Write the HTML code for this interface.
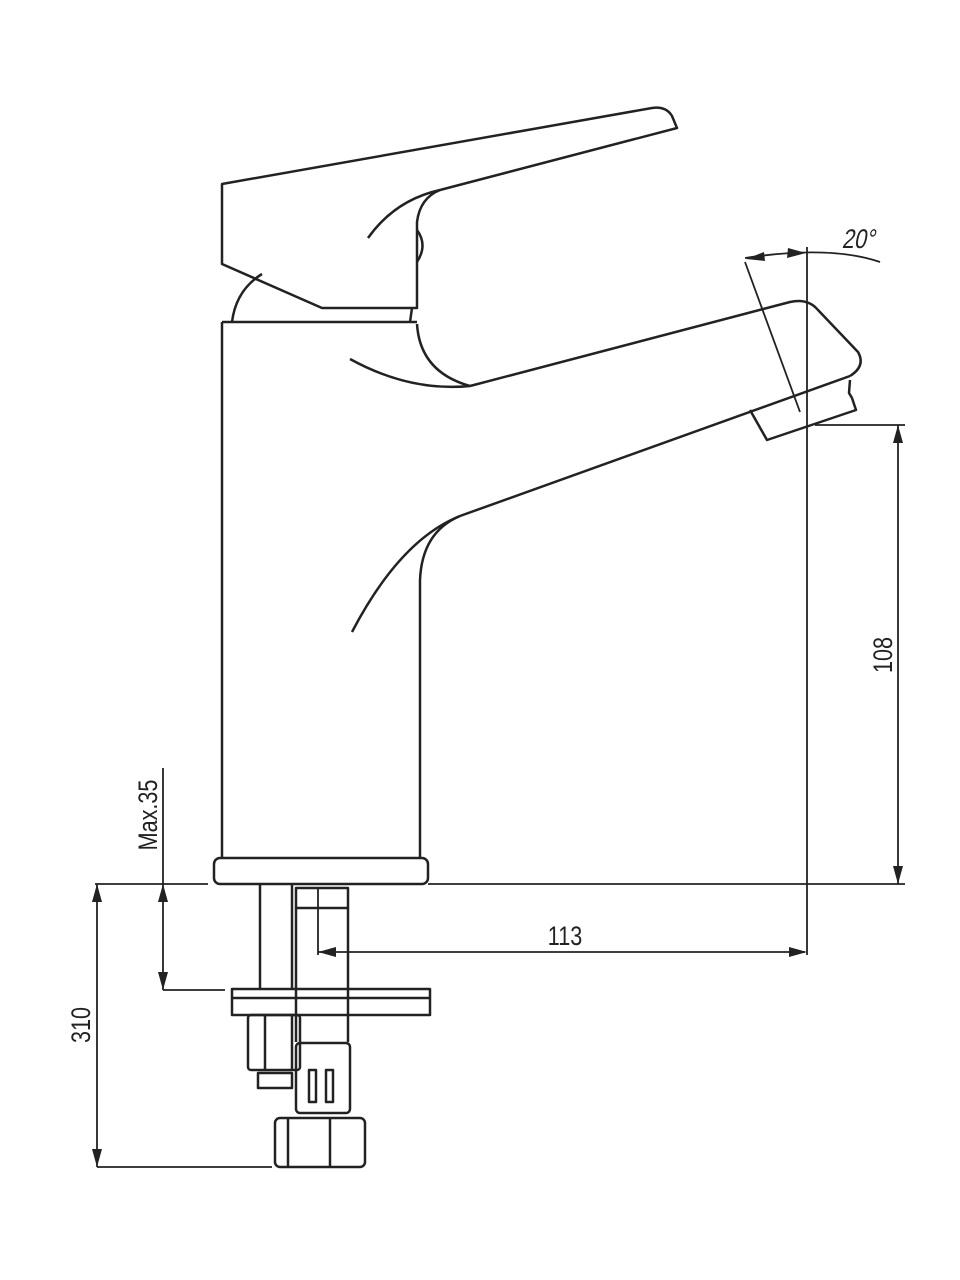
<!DOCTYPE html>
<html><head><meta charset="utf-8"><style>html,body{margin:0;padding:0;background:#fff}svg{display:block}</style></head>
<body>
<svg width="960" height="1280" viewBox="0 0 960 1280" xmlns="http://www.w3.org/2000/svg">
<g fill="none" stroke="#222" stroke-width="2.5" stroke-linejoin="round">
<path d="M222,184 L652,108 Q666,106 672,116 L677,128 L440,190 Q420,198 417,222 L417,308 L322,308 L222,264 Z"/>
<path d="M368,238 Q395,200 440,190"/>
<path d="M417,230 Q428,245 417,262"/>
<path d="M232,322 Q236,290 262,274"/>
<path d="M412,308 L410,322"/>
<path d="M222,322 L417,322"/>
<path d="M222,322 L222,858"/>
<path d="M420,580 L420,858"/>
<path d="M417,324 Q420,372 470,386"/>
<path d="M350,359 Q410,392 470,386"/>
<path d="M470,386 L790,302 Q808,298 818,310 L858,352 Q866,366 850,376"/>
<path d="M460,516 L850,376"/>
<path d="M460,516 Q422,532 420,580"/>
<path d="M352,632 Q400,540 460,516"/>
<path d="M750,410 L767,440 L856,410 L852,398 L849,393 L850,380"/>
<rect x="214" y="858" width="214" height="26" rx="6"/>
<path d="M260,884 L260,990 M292,884 L292,990"/>
<path d="M296,888 L348,888 L348,908 L296,908 Z"/>
<path d="M296,908 L296,1042 M348,908 L348,1042"/>
<rect x="232" y="989" width="198" height="26"/>
<path d="M232,998 L430,998"/>
<rect x="248" y="1015" width="52" height="55" rx="3"/>
<path d="M265,1015 L265,1070 M292,1015 L292,1070"/>
<path d="M258,1073 L292,1073 L292,1088 L258,1088 Z"/>
<rect x="296" y="1043" width="54" height="70" rx="4"/>
<rect x="309" y="1070" width="7" height="32"/>
<rect x="326" y="1070" width="7" height="32"/>
<rect x="275" y="1118" width="90" height="49" rx="5"/>
<path d="M288,1118 L288,1167 M330,1118 L330,1167"/>
</g>
<g fill="none" stroke="#222" stroke-width="1.8">
<path d="M95,884 L208,884 M428,884 L905,884"/>
<path d="M807,247 L807,955"/>
<path d="M745,262 L800,412"/>
<path d="M745,258 Q830,245 880,262"/>
<path d="M815,425 L905,425 M898,425 L898,884"/>
<path d="M318,888 L318,955 M318,952 L805,952"/>
<path d="M163,768 L163,990 M163,990 L225,990"/>
<path d="M97,884 L97,1167 M97,1167 L272,1167"/>
</g>
<g fill="#222">
<path d="M898,425 l-5,18 l10,0 z M898,884 l-5,-18 l10,0 z"/>
<path d="M318,952 l18,-5 l0,10 z M807,952 l-18,-5 l0,10 z"/>
<path d="M163,884 l-5,18 l10,0 z M163,990 l-5,-18 l10,0 z"/>
<path d="M97,884 l-5,18 l10,0 z M97,1167 l-5,-18 l10,0 z"/>
<path d="M746,259 l18,-7 l1,9 z M806,253 l-18,-5 l-1,10 z"/>
</g>
<g font-family="Liberation Sans, sans-serif" font-size="27" fill="#222">
<text transform="translate(565,945) scale(0.8,1)" text-anchor="middle">113</text>
<text transform="translate(892,655) rotate(-90) scale(0.8,1)" text-anchor="middle">108</text>
<text transform="translate(90,1025) rotate(-90) scale(0.8,1)" text-anchor="middle">310</text>
<text transform="translate(157,815) rotate(-90) scale(0.8,1)" text-anchor="middle">Max.35</text>
<text transform="translate(858,248) skewX(-12) scale(0.8,1)" text-anchor="middle">20°</text>
</g>
</svg>
</body></html>
